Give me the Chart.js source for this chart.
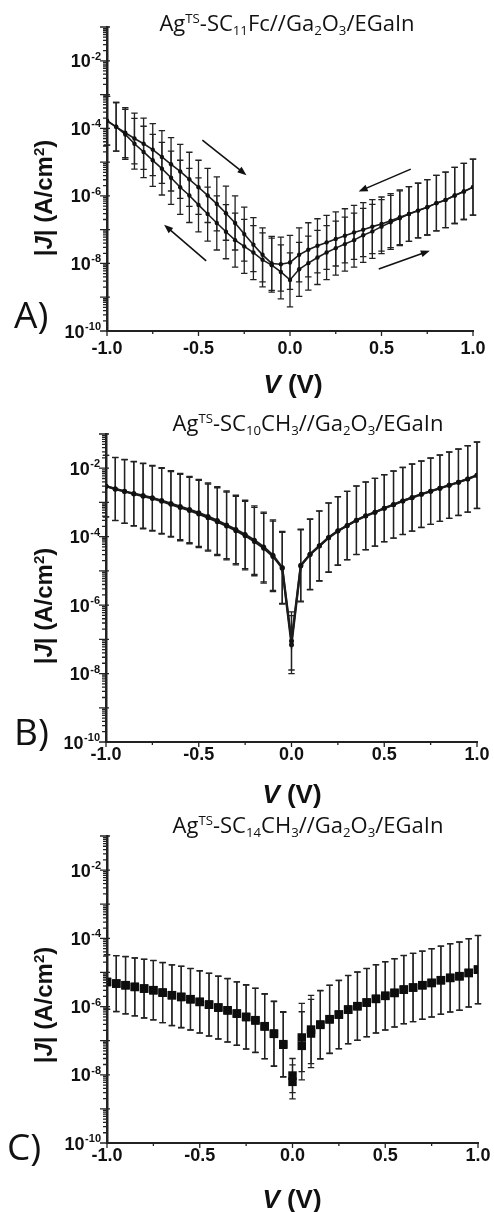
<!DOCTYPE html>
<html>
<head>
<meta charset="utf-8">
<script src="https://cdn.jsdelivr.net/npm/chart.js@4"></script>
<style>
  body { margin: 0; background: #fff; }
  #page { position: relative; width: 494px; height: 1212px; overflow: hidden; background: #fff; }
  canvas { position: absolute; left: 0; }
  .ttl { position: absolute; font-family: 'Open Sans', sans-serif; font-size: 22px; line-height: 1; white-space: nowrap; color: #111; transform: translateX(-50%); }
  .ttl sub, .ttl sup { font-size: 0.6em; line-height: 0; position: relative; vertical-align: baseline; }
  .ttl sup { top: -0.62em; }
  .ttl sub { top: 0.32em; }
  .ylab { position: absolute; font-family: 'Liberation Sans', sans-serif; font-weight: bold; font-size: 24px; line-height: 1; white-space: nowrap; color: #111; transform: translate(-50%, -50%) rotate(-90deg); }
  .ylab sup { font-size: 0.62em; line-height: 0; position: relative; vertical-align: baseline; top: -0.55em; }
  .xlab { position: absolute; font-family: 'Liberation Sans', sans-serif; font-weight: bold; font-size: 26px; line-height: 1; white-space: nowrap; color: #111; transform: translate(-50%, -50%); }
  .plab { position: absolute; font-family: 'Open Sans', sans-serif; font-size: 37px; line-height: 1; color: #111; }
</style>
</head>
<body>
<div id="page">
  <canvas id="chartA" width="494" height="400" style="top:0px;width:494px;height:400px"></canvas>
  <canvas id="chartB" width="494" height="405" style="top:400px;width:494px;height:405px"></canvas>
  <canvas id="chartC" width="494" height="407" style="top:805px;width:494px;height:407px"></canvas>

  <div class="ttl" style="left:287px;top:11px">Ag<sup>TS</sup>-SC<sub>11</sub>Fc//Ga<sub>2</sub>O<sub>3</sub>/EGaIn</div>
  <div class="ttl" style="left:308px;top:411px">Ag<sup>TS</sup>-SC<sub>10</sub>CH<sub>3</sub>//Ga<sub>2</sub>O<sub>3</sub>/EGaIn</div>
  <div class="ttl" style="left:308px;top:813px">Ag<sup>TS</sup>-SC<sub>14</sub>CH<sub>3</sub>//Ga<sub>2</sub>O<sub>3</sub>/EGaIn</div>

  <div class="ylab" style="left:44px;top:198px">|<i>J</i>| (A/cm<sup>2</sup>)</div>
  <div class="ylab" style="left:44px;top:606px">|<i>J</i>| (A/cm<sup>2</sup>)</div>
  <div class="ylab" style="left:44px;top:1005px">|<i>J</i>| (A/cm<sup>2</sup>)</div>

  <div class="xlab" style="left:293px;top:384px"><i>V</i> (V)</div>
  <div class="xlab" style="left:292px;top:794px"><i>V</i> (V)</div>
  <div class="xlab" style="left:292px;top:1199px"><i>V</i> (V)</div>

  <div class="plab" style="left:14px;top:295px">A)</div>
  <div class="plab" style="left:14px;top:712px">B)</div>
  <div class="plab" style="left:7px;top:1127px">C)</div>
</div>

<script>
// bias voltage, V
const voltage = [-1.0, -0.95, -0.9, -0.85, -0.8, -0.75, -0.7, -0.65, -0.6, -0.55, -0.5, -0.45, -0.4, -0.35, -0.3, -0.25, -0.2, -0.15, -0.1, -0.05, 0.0,
  0.05, 0.1, 0.15, 0.2, 0.25, 0.3, 0.35, 0.4, 0.45, 0.5, 0.55, 0.6, 0.65, 0.7, 0.75, 0.8, 0.85, 0.9, 0.95, 1.0];

// A) Ag-SC11Fc, |J| in A/cm2 (upper and lower branch of the sweep)
const jA_upper = [1.68e-4, 1.11e-4, 7.4e-5, 5.0e-5, 3.5e-5, 2.35e-5, 1.42e-5, 8.6e-6, 5.3e-6, 3.1e-6, 1.8e-6, 1.03e-6, 5.8e-7, 3.07e-7, 1.58e-7, 7.4e-8, 3.6e-8, 1.8e-8, 1.0e-8, 9.5e-9, 1.07e-8,
  1.8e-8, 2.54e-8, 3.34e-8, 4.2e-8, 5.3e-8, 6.6e-8, 8.3e-8, 1.0e-7, 1.23e-7, 1.47e-7, 1.85e-7, 2.33e-7, 2.92e-7, 3.67e-7, 4.6e-7, 6.1e-7, 7.6e-7, 1.03e-6, 1.35e-6, 1.82e-6];
const jA_lower = [1.68e-4, 1.11e-4, 6.6e-5, 3.5e-5, 2.0e-5, 1.13e-5, 6.4e-6, 3.45e-6, 1.8e-6, 1.03e-6, 5.4e-7, 2.9e-7, 1.58e-7, 8.7e-8, 4.9e-8, 3.2e-8, 2.1e-8, 1.28e-8, 8.9e-9, 5.6e-9, 3.25e-9,
  6.7e-9, 1.02e-8, 1.5e-8, 2.1e-8, 2.84e-8, 3.74e-8, 4.9e-8, 6.8e-8, 8.9e-8, 1.23e-7, 1.65e-7, 2.17e-7, 2.92e-7, 3.67e-7, 4.6e-7, 6.1e-7, 7.6e-7, 1.03e-6, 1.35e-6, 1.82e-6];
// error bars, half width in decades
const errA = [0.72, 0.72, 0.74, 0.75, 0.76, 0.77, 0.78, 0.79, 0.8, 0.8, 0.8, 0.8, 0.8, 0.8, 0.8, 0.8, 0.8, 0.8, 0.8, 0.8, 0.8,
  0.8, 0.8, 0.8, 0.8, 0.8, 0.8, 0.8, 0.8, 0.8, 0.8, 0.8, 0.81, 0.81, 0.81, 0.82, 0.82, 0.82, 0.83, 0.83, 0.83];

// B) Ag-SC10CH3
const jB_upper = [2.99e-3, 2.5e-3, 2.13e-3, 1.82e-3, 1.59e-3, 1.36e-3, 1.14e-3, 9.3e-4, 7.6e-4, 6.2e-4, 4.97e-4, 3.88e-4, 2.96e-4, 2.21e-4, 1.62e-4, 1.16e-4, 7.9e-5, 5.0e-5, 2.88e-5, 1.26e-5, 9e-8,
  1.47e-5, 3.08e-5, 5.4e-5, 9.5e-5, 1.48e-4, 2.12e-4, 3.03e-4, 4.06e-4, 5.19e-4, 6.8e-4, 8.7e-4, 1.11e-3, 1.39e-3, 1.74e-3, 2.13e-3, 2.61e-3, 3.19e-3, 3.9e-3, 4.88e-3, 6.25e-3];
const jB_lower = [2.99e-3, 2.45e-3, 2.08e-3, 1.76e-3, 1.52e-3, 1.3e-3, 1.08e-3, 8.8e-4, 7.1e-4, 5.8e-4, 4.6e-4, 3.6e-4, 2.75e-4, 2.05e-4, 1.5e-4, 1.07e-4, 7.2e-5, 4.6e-5, 2.65e-5, 1.2e-5, 7e-8,
  1.4e-5, 3.0e-5, 5.3e-5, 9.3e-5, 1.46e-4, 2.1e-4, 3.0e-4, 4.0e-4, 5.15e-4, 6.75e-4, 8.6e-4, 1.1e-3, 1.38e-3, 1.73e-3, 2.12e-3, 2.6e-3, 3.18e-3, 3.88e-3, 4.86e-3, 6.2e-3];
const errB = [0.9, 0.92, 0.93, 0.94, 0.95, 0.95, 0.96, 0.96, 0.97, 0.97, 0.98, 0.98, 0.99, 0.99, 1.0, 1.0, 1.0, 1.02, 1.03, 1.05, 0.85,
  1.05, 1.03, 1.02, 1.01, 1.0, 1.0, 1.0, 0.99, 0.99, 0.98, 0.98, 0.98, 0.98, 0.97, 0.97, 0.97, 0.97, 0.97, 0.97, 0.97];

// C) Ag-SC14CH3
const jC_upper = [5.3e-6, 4.74e-6, 4.24e-6, 3.79e-6, 3.39e-6, 3.03e-6, 2.58e-6, 2.16e-6, 1.93e-6, 1.65e-6, 1.38e-6, 1.15e-6, 9.4e-7, 7.8e-7, 6.25e-7, 5.0e-7, 3.99e-7, 2.66e-7, 1.62e-7, 7.9e-8, 9.5e-9,
  1.24e-7, 2.12e-7, 2.98e-7, 4.27e-7, 5.85e-7, 8.2e-7, 1.03e-6, 1.32e-6, 1.69e-6, 2.07e-6, 2.53e-6, 3.16e-6, 3.62e-6, 4.24e-6, 4.96e-6, 5.94e-6, 6.95e-6, 7.8e-6, 9.75e-6, 1.22e-5];
const jC_lower = [5.2e-6, 4.7e-6, 4.2e-6, 3.75e-6, 3.35e-6, 3.0e-6, 2.55e-6, 2.14e-6, 1.9e-6, 1.63e-6, 1.36e-6, 1.13e-6, 9.3e-7, 7.7e-7, 6.2e-7, 4.9e-7, 3.9e-7, 2.6e-7, 1.58e-7, 7.6e-8, 6.2e-9,
  7.05e-8, 1.62e-7, 2.9e-7, 4.2e-7, 5.8e-7, 8.1e-7, 1.02e-6, 1.3e-6, 1.67e-6, 2.05e-6, 2.5e-6, 3.12e-6, 3.6e-6, 4.2e-6, 4.9e-6, 5.9e-6, 6.9e-6, 7.7e-6, 9.6e-6, 1.2e-5];
const errC = [0.8, 0.82, 0.84, 0.85, 0.86, 0.87, 0.88, 0.89, 0.9, 0.9, 0.91, 0.92, 0.92, 0.93, 0.93, 0.94, 0.94, 0.95, 0.95, 0.95, 0.5,
  1.0, 1.0, 1.0, 1.0, 1.0, 1.0, 1.0, 1.0, 1.0, 1.0, 1.0, 1.0, 1.0, 1.0, 1.0, 1.0, 1.0, 1.0, 1.0, 1.0];

// sweep direction arrows in panel A: [V tail, J tail, V head, J head]
const arrowsA = [
  [-0.479, 4.5e-5, -0.238, 4.1e-6],
  [-0.458, 1.2e-8, -0.688, 1.4e-7],
  [0.66, 6.2e-6, 0.375, 1.35e-6],
  [0.485, 6.9e-9, 0.764, 2.37e-8]
];

// axis ticks
const yDecades = [1e-10, 1e-9, 1e-8, 1e-7, 1e-6, 1e-5, 1e-4, 1e-3, 1e-2, 1e-1];
const yMinorMult = [2, 3, 4, 5, 6, 7, 8, 9];
const yLabelExps = [-10, -8, -6, -4, -2];
const xMajor = [-1, -0.5, 0, 0.5, 1];
const xMinor = [-0.75, -0.25, 0.25, 0.75];

function pts(arr) {
  return arr.map((j, i) => ({ x: voltage[i], y: j }));
}

const errorBars = {
  id: 'errorBars',
  beforeDatasetsDraw(chart) {
    const { ctx, scales: { y } } = chart;
    ctx.save();
    ctx.strokeStyle = '#222';
    ctx.lineWidth = 1.3;
    chart.data.datasets.forEach((ds, i) => {
      const meta = chart.getDatasetMeta(i);
      meta.data.forEach((pt, k) => {
        const f = Math.pow(10, ds.errDec[k]);
        const v = ds.data[k].y;
        const top = y.getPixelForValue(v * f);
        const bot = y.getPixelForValue(v / f);
        ctx.beginPath();
        ctx.moveTo(pt.x, top); ctx.lineTo(pt.x, bot);
        ctx.moveTo(pt.x - 3.2, top); ctx.lineTo(pt.x + 3.2, top);
        ctx.moveTo(pt.x - 3.2, bot); ctx.lineTo(pt.x + 3.2, bot);
        ctx.stroke();
      });
    });
    ctx.restore();
  }
};

const axisDecor = {
  id: 'axisDecor',
  afterDraw(chart, args, opts) {
    const { ctx, chartArea: a, scales: { x, y } } = chart;
    ctx.save();
    ctx.strokeStyle = '#222';
    ctx.lineWidth = 1.3;
    ctx.beginPath();
    yDecades.forEach(d => {
      const py = y.getPixelForValue(d);
      ctx.moveTo(a.left - 7, py); ctx.lineTo(a.left + 3, py);
      if (d < 0.1) {
        yMinorMult.forEach(m => {
          const p = y.getPixelForValue(m * d);
          ctx.moveTo(a.left - 4, p); ctx.lineTo(a.left + 1, p);
        });
      }
    });
    xMajor.forEach(v => {
      const px = x.getPixelForValue(v);
      ctx.moveTo(px, a.bottom); ctx.lineTo(px, a.bottom + 5);
    });
    xMinor.forEach(v => {
      const px = x.getPixelForValue(v);
      ctx.moveTo(px, a.bottom); ctx.lineTo(px, a.bottom + 3);
    });
    ctx.stroke();

    // y tick labels 10^n
    ctx.fillStyle = '#111';
    ctx.textBaseline = 'alphabetic';
    ctx.textAlign = 'right';
    yLabelExps.forEach(e => {
      const py = y.getPixelForValue(Math.pow(10, e));
      const exp = String(e);
      ctx.font = 'bold 11px "Liberation Sans"';
      const ew = ctx.measureText(exp).width;
      ctx.fillText(exp, a.left - 6, py - 1);
      ctx.font = 'bold 18px "Liberation Sans"';
      ctx.fillText('10', a.left - 6 - ew - 0.5, py + 6.5);
    });

    // arrows
    (opts.arrows || []).forEach(([v0, j0, v1, j1]) => {
      const x0 = x.getPixelForValue(v0), y0 = y.getPixelForValue(j0);
      const x1 = x.getPixelForValue(v1), y1 = y.getPixelForValue(j1);
      const ang = Math.atan2(y1 - y0, x1 - x0);
      ctx.strokeStyle = '#111';
      ctx.lineWidth = 1.6;
      ctx.beginPath();
      ctx.moveTo(x0, y0);
      ctx.lineTo(x1 - 6 * Math.cos(ang), y1 - 6 * Math.sin(ang));
      ctx.stroke();
      ctx.fillStyle = '#111';
      ctx.beginPath();
      ctx.moveTo(x1, y1);
      ctx.lineTo(x1 - 9 * Math.cos(ang) + 3.5 * Math.sin(ang), y1 - 9 * Math.sin(ang) - 3.5 * Math.cos(ang));
      ctx.lineTo(x1 - 9 * Math.cos(ang) - 3.5 * Math.sin(ang), y1 - 9 * Math.sin(ang) + 3.5 * Math.cos(ang));
      ctx.closePath();
      ctx.fill();
    });
    ctx.restore();
  }
};

function panel(id, cfg) {
  new Chart(document.getElementById(id), {
    type: 'line',
    data: { datasets: cfg.datasets },
    options: {
      responsive: false,
      animation: false,
      devicePixelRatio: 1,
      layout: { padding: { left: 0, right: cfg.right, top: cfg.top, bottom: 0 } },
      plugins: {
        legend: { display: false },
        tooltip: { enabled: false },
        axisDecor: { arrows: cfg.arrows }
      },
      scales: {
        x: {
          type: 'linear', min: -1, max: 1,
          grid: { display: false, drawTicks: false },
          border: { display: true, width: 2, color: '#222' },
          ticks: {
            stepSize: 0.5, padding: cfg.tickPad, color: '#111', maxRotation: 0, autoSkip: false,
            font: { family: 'Liberation Sans', size: 18, weight: 'bold' },
            callback: v => Number(v).toFixed(1)
          },
          afterFit: s => { s.height = cfg.h - cfg.bottom; s.paddingLeft = 0; s.paddingRight = 0; }
        },
        y: {
          type: 'logarithmic', min: 1e-10, max: 1e-1,
          grid: { display: false, drawTicks: false },
          border: { display: true, width: 2.5, color: '#222' },
          ticks: { display: false },
          afterFit: s => { s.width = cfg.left; s.paddingTop = 0; s.paddingBottom = 0; }
        }
      }
    },
    plugins: [errorBars, axisDecor]
  });
}

const lineStyle = { borderColor: '#1c1c1c', borderWidth: 1.6, pointRadius: 2.2, pointBackgroundColor: '#111', pointBorderWidth: 0, tension: 0 };

panel('chartA', {
  h: 400, left: 107, right: 21, top: 27, bottom: 331, tickPad: 7, arrows: arrowsA,
  datasets: [
    Object.assign({ data: pts(jA_upper), errDec: errA }, lineStyle),
    Object.assign({ data: pts(jA_lower), errDec: errA }, lineStyle)
  ]
});

panel('chartB', {
  h: 405, left: 106, right: 17, top: 34, bottom: 342, tickPad: 2,
  datasets: [
    Object.assign({ data: pts(jB_upper), errDec: errB }, lineStyle, { borderWidth: 2.2, pointRadius: 2.5 }),
    Object.assign({ data: pts(jB_lower), errDec: errB }, lineStyle, { borderWidth: 2.2, pointRadius: 2.5 })
  ]
});

panel('chartC', {
  h: 407, left: 107, right: 16, top: 31, bottom: 338, tickPad: 2,
  datasets: [
    { data: pts(jC_upper), errDec: errC, showLine: false, pointStyle: 'rect', pointRadius: 6, pointBackgroundColor: '#0d0d0d', pointBorderWidth: 0 },
    { data: pts(jC_lower), errDec: errC, showLine: false, pointStyle: 'rect', pointRadius: 6, pointBackgroundColor: '#0d0d0d', pointBorderWidth: 0 }
  ]
});
</script>
</body>
</html>
